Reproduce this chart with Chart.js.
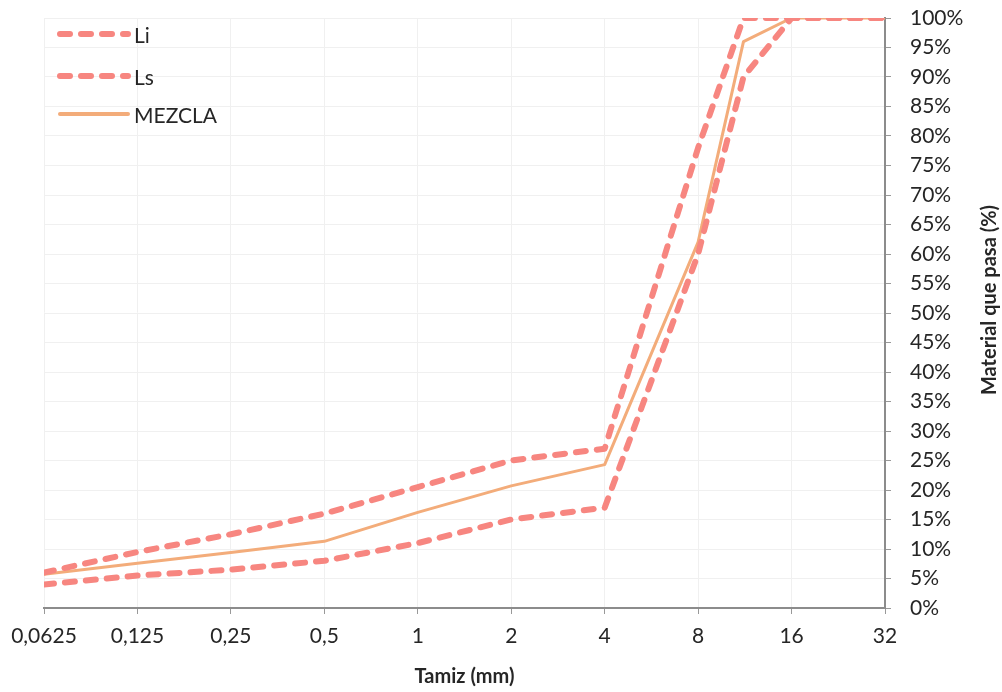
<html>
  <head>
    <title>Curva granulométrica</title>
    <script src="https://cdn.jsdelivr.net/npm/chart.js@4.4.1/dist/chart.umd.min.js"></script>
    <style>
      body { margin: 0; background: #fff; }
      #wrap { position: relative; width: 1002px; height: 692px; }
    </style>
  </head>
  <body>
    <div id="wrap"><canvas id="grafico" width="1002" height="692"></canvas></div>
    <script>
      // tamices (mm) y porcentajes que pasan
      var sieves = [0.0625, 0.125, 0.25, 0.5, 1, 2, 4, 8, 11.2, 16, 32];
      var li = [4, 5.5, 6.5, 8, 11, 15, 17, 60, 90, 100, 100];
      var ls = [6, 9.5, 12.5, 16, 20.5, 25, 27, 78, 100, 100, 100];
      var mezcla = [5.7, 7.6, 9.4, 11.3, 16.2, 20.7, 24.3, 62, 96, 100, 100];

      var tickValues = [0.0625, 0.125, 0.25, 0.5, 1, 2, 4, 8, 16, 32];
      var tickLabels = ['0,0625', '0,125', '0,25', '0,5', '1', '2', '4', '8', '16', '32'];

      var FONT = 'Lato, "Open Sans", sans-serif';
      var TEXT = '#262626';
      var SALMON = 'rgb(247,134,128)';
      var MEZ = 'rgb(243,172,122)';

      function pts(vals) {
        return sieves.map(function (s, i) { return { x: s, y: vals[i] }; });
      }

      // leyenda vertical arriba a la izquierda + titulo del eje y (abajo hacia arriba)
      var extras = {
        id: 'extras',
        afterDraw: function (chart) {
          var ctx = chart.ctx;
          var items = [
            { label: 'Li', dash: [10, 11], color: SALMON, w: 6, y: 34 },
            { label: 'Ls', dash: [10, 11], color: SALMON, w: 6, y: 76 },
            { label: 'MEZCLA', dash: [], color: MEZ, w: 4, y: 114 }
          ];
          ctx.save();
          items.forEach(function (it) {
            ctx.beginPath();
            ctx.setLineDash(it.dash);
            ctx.lineCap = 'round';
            ctx.strokeStyle = it.color;
            ctx.lineWidth = it.w;
            ctx.moveTo(60, it.y);
            ctx.lineTo(128, it.y);
            ctx.stroke();
            ctx.setLineDash([]);
            ctx.fillStyle = TEXT;
            ctx.font = '21px ' + FONT;
            ctx.textAlign = 'left';
            ctx.textBaseline = 'middle';
            ctx.fillText(it.label, 134, it.y + 2);
          });
          ctx.translate(990, 300);
          ctx.rotate(-Math.PI / 2);
          ctx.font = 'bold 20px ' + FONT;
          ctx.textAlign = 'center';
          ctx.textBaseline = 'middle';
          ctx.fillStyle = TEXT;
          ctx.fillText('Material que pasa (%)', 0, 0);
          ctx.restore();
        }
      };

      new Chart(document.getElementById('grafico'), {
        type: 'line',
        data: {
          datasets: [
            { label: 'Li', data: pts(li), borderColor: SALMON, borderWidth: 6,
              borderDash: [10, 11], borderCapStyle: 'round', borderJoinStyle: 'round',
              pointRadius: 0, fill: false },
            { label: 'Ls', data: pts(ls), borderColor: SALMON, borderWidth: 6,
              borderDash: [10, 11], borderCapStyle: 'round', borderJoinStyle: 'round',
              pointRadius: 0, fill: false },
            { label: 'MEZCLA', data: pts(mezcla), borderColor: MEZ, borderWidth: 3,
              borderJoinStyle: 'round', pointRadius: 0, fill: false }
          ]
        },
        options: {
          responsive: false,
          animation: false,
          layout: { padding: { left: 44, top: 18, right: 0, bottom: 0 } },
          plugins: { legend: { display: false }, tooltip: { enabled: false } },
          scales: {
            x: {
              type: 'logarithmic',
              min: 0.0625,
              max: 32,
              afterBuildTicks: function (s) {
                s.ticks = tickValues.map(function (v) { return { value: v }; });
              },
              afterFit: function (s) { s.height = 84; },
              grid: { color: '#f0f0f0', tickColor: '#999', tickLength: 6 },
              border: { color: '#8c8c8c', width: 2 },
              ticks: {
                autoSkip: false, maxRotation: 0, minRotation: 0, padding: 10,
                color: TEXT, font: { family: FONT, size: 21 },
                callback: function (v, i) { return tickLabels[i]; }
              },
              title: {
                display: true, text: 'Tamiz (mm)', color: TEXT,
                font: { family: FONT, size: 20, weight: 'bold' },
                padding: { top: 4, bottom: 3 }
              }
            },
            y: {
              position: 'right',
              min: 0,
              max: 100,
              afterFit: function (s) {
                s.width = 117;
                s.paddingTop = 0;
                s.paddingBottom = 0;
              },
              grid: { color: '#f0f0f0', tickColor: '#999', tickLength: 6 },
              border: { color: '#8c8c8c', width: 2 },
              ticks: {
                stepSize: 5, padding: 19, color: TEXT,
                font: { family: FONT, size: 21 },
                callback: function (v) { return v + '%'; }
              }
            }
          }
        },
        plugins: [extras]
      });
    </script>
  </body>
</html>
